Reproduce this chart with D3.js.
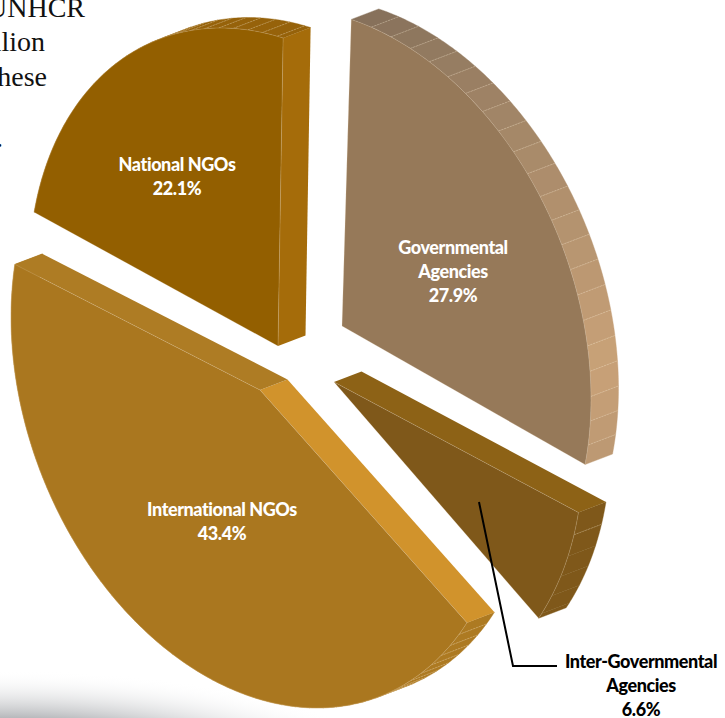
<!DOCTYPE html>
<html>
<head>
<meta charset="utf-8">
<script src="https://cdn.jsdelivr.net/npm/d3@7"></script>
<style>
  html, body { margin: 0; padding: 0; background: #fff; }
  svg { display: block; }
  .slice-label { font-family: Lato, sans-serif; font-weight: 900; font-size: 18px; letter-spacing: -0.42px; fill: #fff; text-anchor: middle; }
  .callout { fill: #000; }
  .body-copy { font-family: "Liberation Serif", serif; font-size: 28px; fill: #111; text-anchor: end; }
</style>
</head>
<body>
<svg id="chart" width="725" height="718"></svg>
<script>
// Share of funding by type of partner, in percent
const partners = ["Governmental Agencies", "Inter-Governmental Agencies", "International NGOs", "National NGOs"];
const shares = [27.9, 6.6, 43.4, 22.1];
const shareLabels = ["27.9%", "6.6%", "43.4%", "22.1%"];

const faceColors = ["#967959", "#7f581a", "#aa771f", "#935f00"];
// A null wall faces away from the viewer and is not drawn
const startWallColors = [null, "#8d6216", "#d1932c", null];
const endWallColors = [null, null, "#ae7c24", "#a56c0a"];
const rimColors = [["#85705a", "#c9a278", "#bc9872"], ["#7f581a", "#7f581a"], ["#ad7a22", "#ad7a22"], ["#96620a", "#96620a"]];
const rimSteps = [4.6, 4.5, 3.2, 3.4];
const rimSeams = [Infinity, 1, Infinity, Infinity];

// Hand-set placement of each pulled-out wedge: pixel origin of its tip and a small turn in degrees
const wedgeTips = [[342, 326], [334, 382], [260, 390], [278, 346]];
const wedgeTurns = [0.63, -0.97, -1.92, -0.32];

// Oblique view: the unit circle of the pie plane maps through these two axes, depth through the third
const axisE = [248.9, 81];
const axisF = [6.5, -307.5];
const depth = [27.5, -10.5];

const svg = d3.select("#chart");

// Soft grey shading along the lower left edge of the page
const defs = svg.append("defs");
const glow = defs.append("radialGradient").attr("id", "pageShade")
  .attr("gradientUnits", "userSpaceOnUse")
  .attr("cx", 0).attr("cy", 0).attr("r", 1)
  .attr("gradientTransform", "translate(0,790) scale(420,120)");
glow.append("stop").attr("offset", 0).attr("stop-color", "#a5a7ab");
glow.append("stop").attr("offset", 0.6).attr("stop-color", "#b6b8bb");
glow.append("stop").attr("offset", 1).attr("stop-color", "#ffffff").attr("stop-opacity", 0);
svg.append("rect").attr("x", 0).attr("y", 660).attr("width", 480).attr("height", 58).attr("fill", "url(#pageShade)");

// Running text cut off by the chart
const copy = svg.append("g").attr("class", "body-copy");
[["UNHCR", 85, 17], ["llion", 45, 51], ["hese", 47, 86], [".", 3, 147]].forEach(([t, x, y]) => {
  copy.append("text").attr("x", x).attr("y", y).text(t);
});

const pie = d3.pie().sort(null).startAngle(0).endAngle(2 * Math.PI);
const arcs = pie(shares);

const project = (angle, radius = 1) => {
  const s = Math.sin(angle) * radius, c = Math.cos(angle) * radius;
  return [axisE[0] * s + axisF[0] * c, axisE[1] * s + axisF[1] * c];
};
const line = d3.line();
const back = p => [p[0] + depth[0], p[1] + depth[1]];
const rad = d3.scaleLinear().domain([0, 360]).range([0, 2 * Math.PI]);

const wedges = svg.selectAll("g.wedge").data(arcs).join("g").attr("class", "wedge")
  .attr("transform", (d, i) => `translate(${wedgeTips[i]})`);

wedges.each(function (d, i) {
  const g = d3.select(this);
  const turn = rad(wedgeTurns[i]);
  const a0 = d.startAngle + turn, a1 = d.endAngle + turn;
  const rimPoints = d3.range(a0, a1, rad(1)).concat([a1]).map(a => project(a));

  // Curved wall, broken into short facets shaded along the sweep
  const shade = d3.scaleLinear()
    .domain(rimColors[i].length === 3 ? [a0, a0 + (a1 - a0) * 0.82, a1] : [a0, a1])
    .range(rimColors[i]);
  const stops = d3.range(a0, a1, rad(rimSteps[i])).concat([a1]);
  d3.pairs(stops).forEach(([s0, s1]) => {
    const front = d3.range(s0, s1, rad(0.5)).concat([s1]).map(a => project(a));
    g.append("path").attr("fill", shade((s0 + s1) / 2)).attr("stroke", shade((s0 + s1) / 2)).attr("stroke-width", 0.4)
      .attr("d", line(front.concat(front.map(back).reverse())) + "Z");
  });
  stops.slice(1, -1).slice(0, rimSeams[i]).forEach(s => {
    const p = project(s);
    g.append("path").attr("fill", "none").attr("stroke", "#f3e3c4").attr("stroke-opacity", 0.42)
      .attr("stroke-width", 0.7).attr("stroke-dasharray", "2.2 0.8")
      .attr("d", line([p, back(p)]));
  });

  // Flat walls along the two straight cuts
  const walls = [[project(a0), startWallColors[i]], [project(a1), endWallColors[i]]];
  walls.filter(w => w[1]).forEach(([edge, color]) => {
    g.append("path").attr("fill", color)
      .attr("d", line([[0, 0], edge, back(edge), back([0, 0])]) + "Z");
  });

  // Front face on top, with the fine pale seam along its outline
  g.append("path").attr("fill", faceColors[i]).attr("stroke", "#f0dfc0").attr("stroke-opacity", 0.3).attr("stroke-width", 0.7)
    .attr("d", line([[0, 0]].concat(rimPoints)) + "Z");
});

// Labels sitting on the wedges
const inside = [
  { x: 453, ys: [254, 278, 302], lines: ["Governmental", "Agencies", shareLabels[0]] },
  { x: 222, ys: [516, 540], lines: [partners[2], shareLabels[2]] },
  { x: 177, ys: [171, 195], lines: [partners[3], shareLabels[3]] }
];
inside.forEach(block => {
  block.lines.forEach((t, k) => {
    svg.append("text").attr("class", "slice-label").attr("x", block.x).attr("y", block.ys[k]).text(t);
  });
});

// Callout for the narrow wedge
svg.append("path").attr("fill", "none").attr("stroke", "#000").attr("stroke-width", 2)
  .attr("d", line([[479, 502], [513, 666], [557, 666]]));
["Inter-Governmental", "Agencies", shareLabels[1]].forEach((t, k) => {
  svg.append("text").attr("class", "slice-label callout").attr("x", 641).attr("y", 668 + k * 24).text(t);
});
</script>
</body>
</html>
